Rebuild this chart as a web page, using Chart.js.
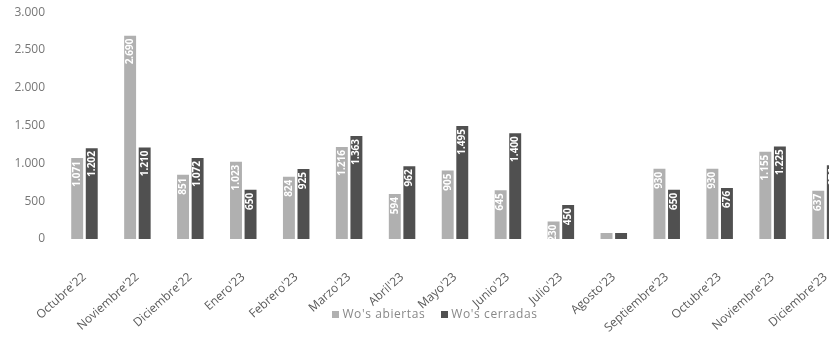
<!DOCTYPE html>
<html>
<head>
<meta charset="utf-8">
<script src="https://cdn.jsdelivr.net/npm/chart.js@4.4.1/dist/chart.umd.min.js"></script>
<style>
html,body{margin:0;padding:0;background:#fff;overflow:hidden;}
#wrap{width:870px;height:350px;position:relative;}
#legend{position:absolute;left:0;top:305px;width:870px;text-align:center;font:12px "Open Sans",sans-serif;letter-spacing:0.6px;color:#888;white-space:nowrap;}
#legend span.item{margin:0 8px;}
#legend i{display:inline-block;width:7px;height:7px;margin-right:3px;vertical-align:0px;}
</style>
</head>
<body>
<div id="wrap"><canvas id="c"></canvas><div id="legend"></div></div>
<script>
const categories = ["Octubre'22","Noviembre'22","Diciembre'22","Enero'23","Febrero'23","Marzo'23","Abril'23","Mayo'23","Junio'23","Julio'23","Agosto'23","Septiembre'23","Octubre'23","Noviembre'23","Diciembre'23"];
const abiertas = [1071, 2690, 851, 1023, 824, 1216, 594, 905, 645, 230, 80, 930, 930, 1155, 637];
const cerradas = [1202, 1210, 1072, 650, 925, 1363, 962, 1495, 1400, 450, 78, 650, 676, 1225, 976];
const seriesNames = ["Wo's abiertas", "Wo's cerradas"];
const seriesColors = ['#b0b0b0', '#505050'];
const yTicks = [0, 500, 1000, 1500, 2000, 2500, 3000];

function fmt(v){ return String(Math.round(v)).replace(/\B(?=(\d{3})+(?!\d))/g, '.'); }

const barLabels = {
  id: 'barLabels',
  afterDatasetsDraw(chart){
    const ctx = chart.ctx;
    chart.data.datasets.forEach((ds, di) => {
      const meta = chart.getDatasetMeta(di);
      meta.data.forEach((el, i) => {
        const h = el.base - el.y;
        if (h < 14) return;
        ctx.save();
        ctx.translate(el.x, el.y + 3);
        ctx.rotate(-Math.PI / 2);
        ctx.font = 'bold 10px "Open Sans", sans-serif';
        ctx.fillStyle = '#ffffff';
        ctx.textAlign = 'right';
        ctx.textBaseline = 'middle';
        ctx.fillText(fmt(ds.data[i]), 0, 0);
        ctx.restore();
      });
    });
  }
};

const chart = new Chart(document.getElementById('c'), {
  type: 'bar',
  data: {
    labels: categories,
    datasets: [
      { label: seriesNames[0], data: abiertas, backgroundColor: seriesColors[0], categoryPercentage: 0.55, barPercentage: 0.82 },
      { label: seriesNames[1], data: cerradas, backgroundColor: seriesColors[1], categoryPercentage: 0.55, barPercentage: 0.82 }
    ]
  },
  options: {
    responsive: true,
    maintainAspectRatio: false,
    animation: false,
    layout: { padding: { top: 9, right: 18, left: 0, bottom: 18 } },
    plugins: {
      legend: { display: false },
      tooltip: { enabled: false }
    },
    scales: {
      x: {
        grid: { display: false },
        border: { display: false },
        afterFit(scale){ scale.height = 93; },
        ticks: { color: '#5a5a5a', font: { family: '"Open Sans", sans-serif', size: 12 }, maxRotation: 42, minRotation: 42, padding: 23, autoSkip: false }
      },
      y: {
        min: 0, max: 3000,
        grid: { display: false },
        border: { display: false },
        afterBuildTicks(scale){ scale.ticks = yTicks.map(v => ({ value: v })); },
        afterFit(scale){ scale.width = 58; },
        ticks: { color: '#777', font: { family: '"Open Sans", sans-serif', size: 12 }, padding: 5, callback: v => fmt(v) }
      }
    }
  },
  plugins: [barLabels]
});

const leg = document.getElementById('legend');
chart.data.datasets.forEach(ds => {
  const s = document.createElement('span');
  s.className = 'item';
  const box = document.createElement('i');
  box.style.background = ds.backgroundColor;
  s.appendChild(box);
  s.appendChild(document.createTextNode(ds.label));
  leg.appendChild(s);
});
</script>
</body>
</html>
